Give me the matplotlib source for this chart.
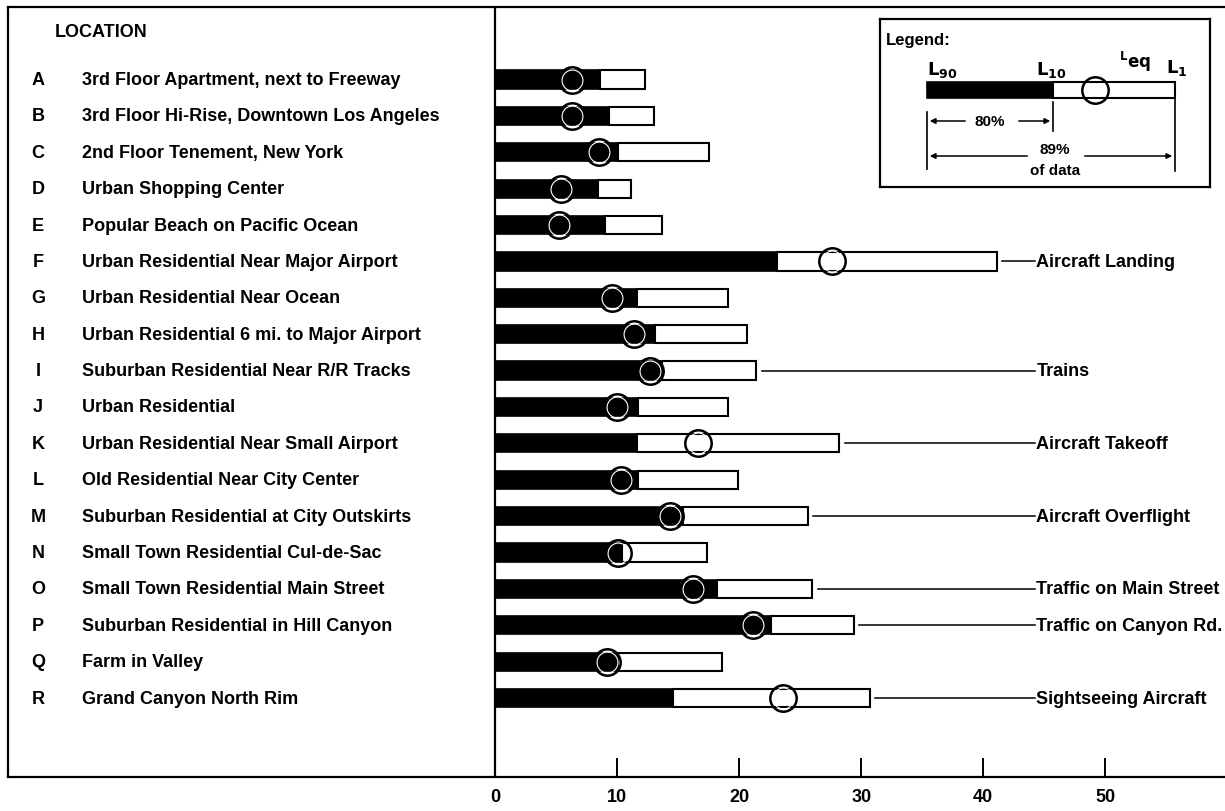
import matplotlib.pyplot as plt

plt.rcParams["font.family"] = ["Liberation Sans", "DejaVu Sans"]
plt.rcParams["font.weight"] = "bold"

# ── data ──
letters = list("ABCDEFGHIJKLMNOPQR")
locations = [
    "3rd Floor Apartment, next to Freeway",
    "3rd Floor Hi-Rise, Downtown Los Angeles",
    "2nd Floor Tenement, New York",
    "Urban Shopping Center",
    "Popular Beach on Pacific Ocean",
    "Urban Residential Near Major Airport",
    "Urban Residential Near Ocean",
    "Urban Residential 6 mi. to Major Airport",
    "Suburban Residential Near R/R Tracks",
    "Urban Residential",
    "Urban Residential Near Small Airport",
    "Old Residential Near City Center",
    "Suburban Residential at City Outskirts",
    "Small Town Residential Cul-de-Sac",
    "Small Town Residential Main Street",
    "Suburban Residential in Hill Canyon",
    "Farm in Valley",
    "Grand Canyon North Rim",
]
l10 = [8.6, 9.3, 10.1, 8.4, 9.0, 23.1, 11.6, 13.1, 13.7, 11.7,
       11.6, 11.7, 15.4, 10.4, 18.2, 22.6, 10.1, 14.6]
l1 = [12.3, 13.0, 17.5, 11.1, 13.7, 41.1, 19.1, 20.6, 21.4, 19.1,
      28.2, 19.9, 25.6, 17.4, 26.0, 29.4, 18.6, 30.7]
leq = [6.3, 6.3, 8.5, 5.4, 5.2, 27.6, 9.6, 11.4, 12.7, 10.0,
       16.6, 10.3, 14.3, 10.1, 16.2, 21.1, 9.2, 23.6]
sources = {
    "F": "Aircraft Landing",
    "I": "Trains",
    "K": "Aircraft Takeoff",
    "M": "Aircraft Overflight",
    "O": "Traffic on Main Street",
    "P": "Traffic on Canyon Rd.",
    "R": "Sightseeing Aircraft",
}
x_ticks = [0, 10, 20, 30, 40, 50]

# legend schematic levels (in the legend box's own units)
legend_l90, legend_l10, legend_leq, legend_l1 = 47, 173, 215, 295

FS = 13

W, H = 1225, 812
fig = plt.figure(figsize=(W / 100, H / 100), dpi=100)
fig.patch.set_facecolor("white")

ax = fig.add_axes([8 / W, (H - 778) / H, (W - 8) / W, 770 / H])
ax.set_xlim(-39.9, 59.8)
ax.set_ylim(19.17, -1.993)

for side in ("top", "left", "bottom"):
    ax.spines[side].set_linewidth(1.6)
ax.spines["right"].set_visible(False)
ax.set_yticks([])
ax.set_xticks(x_ticks)
ax.set_xticklabels([str(t) for t in x_ticks], fontsize=FS, fontweight="bold")
ax.tick_params(axis="x", direction="in", length=14, width=1.4, pad=8)
ax.axvline(0, color="black", lw=1.6)

rows = range(len(letters))
bar_h = 0.5
ax.barh(rows, l10, height=bar_h, color="black", edgecolor="black", lw=1.2, zorder=3)
ax.barh(rows, [b - a for a, b in zip(l10, l1)], left=l10, height=bar_h,
        color="white", edgecolor="black", lw=1.5, zorder=3)
ax.plot(leq, rows, "o", ms=19, mfc="none", mec="black", mew=1.8, zorder=5)
ax.plot(leq, rows, "o", ms=15, mfc="none", mec="white", mew=0.8, zorder=5)

# left panel labels
ax.text(-36.07, -1.31, "LOCATION", ha="left", va="center", fontsize=FS)
for i, (letter, name) in enumerate(zip(letters, locations)):
    ax.text(-37.45, i, letter, ha="center", va="center", fontsize=FS)
    ax.text(-33.85, i, name, ha="left", va="center", fontsize=FS)

# source call-outs
for letter, label in sources.items():
    i = letters.index(letter)
    ax.plot([l1[i] + 0.45, 44.2], [i, i], color="black", lw=1.1, zorder=2)
    ax.text(44.35, i, label, ha="left", va="center", fontsize=FS)

# ── legend box ──
lg = fig.add_axes([880 / W, (H - 188) / H, 330 / W, 168 / H])
lg.set_xlim(0, 330)
lg.set_ylim(168, 0)
lg.set_xticks([])
lg.set_yticks([])
for sp in lg.spines.values():
    sp.set_linewidth(1.6)

lg.text(6, 20, "Legend:", ha="left", va="center", fontsize=12)
lg.barh([71], [legend_l10 - legend_l90], left=legend_l90, height=16,
        color="black", edgecolor="black", lw=1.2)
lg.barh([71], [legend_l1 - legend_l10], left=legend_l10, height=16,
        color="white", edgecolor="black", lw=1.5)
lg.plot([legend_leq], [71], "o", ms=19, mfc="none", mec="black", mew=1.8)

lg.text(legend_l90, 50, "$\\mathbf{L}_{\\mathbf{90}}$", ha="left", va="center", fontsize=13)
lg.text(legend_l10 - 17, 50, "$\\mathbf{L}_{\\mathbf{10}}$", ha="left", va="center", fontsize=13)
lg.text(legend_leq + 24, 42, "$^{\\mathbf{L}}\\mathbf{eq}$", ha="left", va="center", fontsize=12)
lg.text(legend_l1 - 9, 48, "$\\mathbf{L}_{\\mathbf{1}}$", ha="left", va="center", fontsize=13)

lg.plot([legend_l90, legend_l90], [93, 150], color="black", lw=1.2)
lg.plot([legend_l10, legend_l10], [83, 112], color="black", lw=1.2)
lg.plot([legend_l1, legend_l1], [80, 152], color="black", lw=1.2)

arrow = dict(arrowstyle="-|>", color="black", lw=1.1, mutation_scale=8)
lg.text((legend_l90 + legend_l10) / 2, 102, "80%", ha="center", va="center", fontsize=11)
lg.annotate("", xy=(legend_l90, 102), xytext=(88, 102), arrowprops=arrow)
lg.annotate("", xy=(legend_l10, 102), xytext=(136, 102), arrowprops=arrow)

lg.text(175, 130, "89%", ha="center", va="center", fontsize=11)
lg.text(175, 151, "of data", ha="center", va="center", fontsize=11)
lg.annotate("", xy=(legend_l90, 137), xytext=(150, 137), arrowprops=arrow)
lg.annotate("", xy=(legend_l1, 137), xytext=(202, 137), arrowprops=arrow)

fig.savefig("out.png", dpi=100, facecolor="white")
